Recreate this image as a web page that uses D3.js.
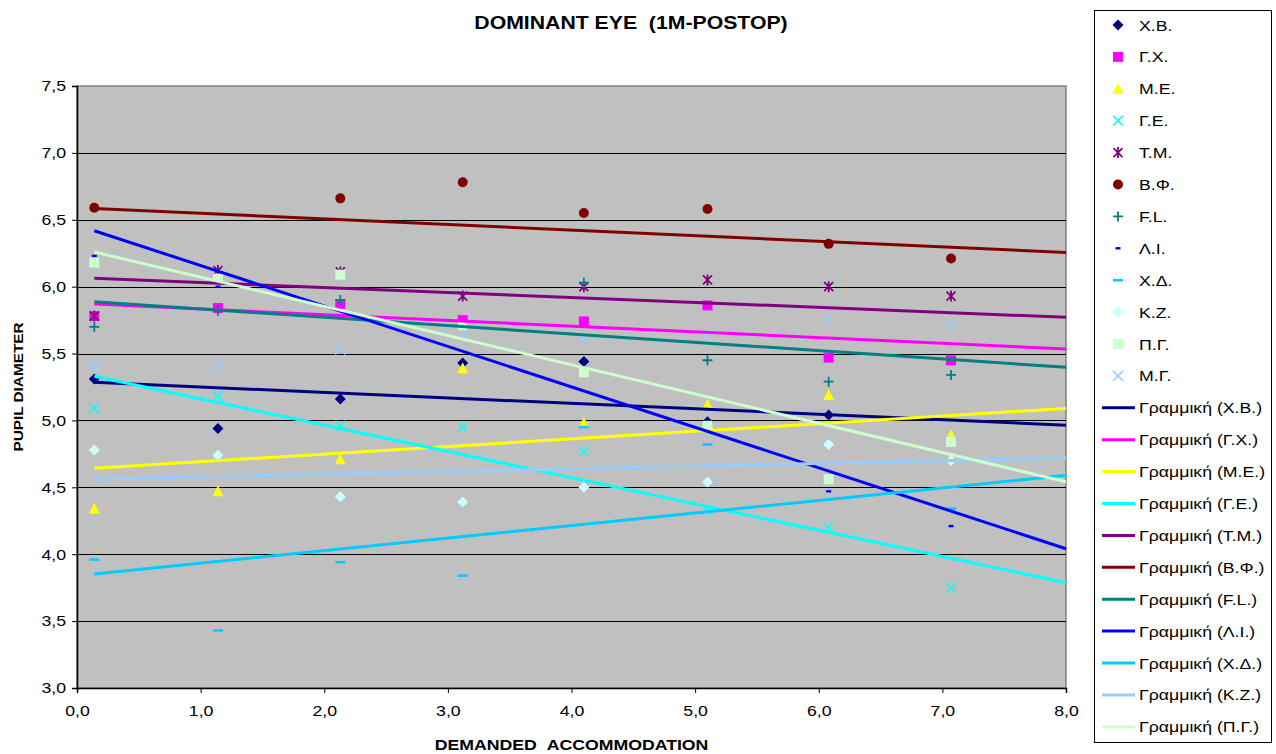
<!DOCTYPE html>
<html>
<head>
<meta charset="utf-8">
<script src="https://cdn.jsdelivr.net/npm/d3@7"></script>
<style>
  html, body { margin: 0; padding: 0; background: #ffffff; }
  svg { display: block; font-family: "Liberation Sans", Arial, sans-serif; }
</style>
</head>
<body>
<svg id="chart" width="1276" height="754"></svg>
<script>
// Demanded accommodation steps (D)
const accommodation = [0.14, 1.14, 2.13, 3.12, 4.10, 5.10, 6.08, 7.07];

// Pupil diameter per subject
const seriesNames = ["Χ.Β.", "Γ.Χ.", "Μ.Ε.", "Γ.Ε.", "Τ.Μ.", "Β.Φ.", "F.L.", "Λ.Ι.", "Χ.Δ.", "Κ.Ζ.", "Π.Γ.", "Μ.Γ."];
const valuesXB = [5.31, 4.94, 5.16, 5.43, 5.44, 4.99, 5.04, 4.86];
const valuesGX = [5.78, 5.84, 5.87, 5.75, 5.74, 5.86, 5.47, 5.45];
const valuesME = [4.34, 4.47, 4.71, 5.39, 4.98, 5.12, 5.19, 4.89];
const valuesGE = [5.09, 5.18, 4.96, 4.95, 4.77, 4.33, 4.20, 3.75];
const valuesTM = [5.78, 6.12, 6.11, 5.93, 6.00, 6.05, 6.00, 5.93];
const valuesBF = [6.59, null, 6.66, 6.78, 6.55, 6.58, 6.32, 6.21];
const valuesFL = [5.70, 5.82, 5.90, 5.71, 6.03, 5.45, 5.29, 5.34];
const valuesLI = [6.23, 6.00, 6.07, 5.70, 5.36, 4.95, 4.47, 4.21];
const valuesXD = [3.96, 3.43, 3.94, 3.84, 4.95, 4.82, 4.55, 4.34];
const valuesKZ = [4.78, 4.74, 4.43, 4.39, 4.50, 4.54, 4.82, 4.70];
const valuesPG = [6.18, 6.06, 6.09, 5.71, 5.36, 4.96, 4.56, 4.84];
const valuesMG = [5.41, 5.41, 5.53, 5.64, 5.61, 5.63, 5.76, 5.71];
const seriesValues = [valuesXB, valuesGX, valuesME, valuesGE, valuesTM, valuesBF,
                      valuesFL, valuesLI, valuesXD, valuesKZ, valuesPG, valuesMG];

const markerColors = ["#000080", "#FF00FF", "#FFFF00", "#00FFFF", "#800080", "#800000",
                      "#008080", "#0000FF", "#00CCFF", "#CCFFFF", "#CCFFCC", "#99CCFF"];
const markerShapes = ["diamond", "square", "triangle", "cross", "star", "circle",
                      "plus", "shortdash", "longdash", "diamond", "square", "cross"];

// Linear trendlines: value at the first step and at the end of the axis (8,0)
const trendNames = ["Χ.Β.", "Γ.Χ.", "Μ.Ε.", "Γ.Ε.", "Τ.Μ.", "Β.Φ.", "F.L.", "Λ.Ι.", "Χ.Δ.", "Κ.Ζ.", "Π.Γ."];
const trendStart = [5.285, 5.870, 4.642, 5.330, 6.062, 6.585, 5.887, 6.418, 3.852, 4.560, 6.259];
const trendEnd   = [4.965, 5.534, 5.090, 3.787, 5.771, 6.256, 5.397, 4.041, 4.590, 4.719, 4.542];
const trendColors = ["#000080", "#FF00FF", "#FFFF00", "#00FFFF", "#800080", "#800000",
                     "#008080", "#0000FF", "#00CCFF", "#99CCFF", "#CCFFCC"];
const trendEndX = 8.0;

const xTicks = [0, 1, 2, 3, 4, 5, 6, 7, 8];
const yTicks = [3.0, 3.5, 4.0, 4.5, 5.0, 5.5, 6.0, 6.5, 7.0, 7.5];

const svg = d3.select("#chart");
const plot = { left: 77, right: 1066, top: 86, bottom: 688 };
const STRETCH = 1.18;   // horizontally widened lettering

const x = d3.scaleLinear().domain([0, 8]).range([plot.left, plot.right]);
const y = d3.scaleLinear().domain([3, 7.5]).range([plot.bottom, plot.top]);
const fmt = v => d3.format(".1f")(v).replace(".", ",");

// Place a text at (tx, ty) with widened glyphs
function wideText(parent, tx, ty, str, size, anchor, bold) {
  return parent.append("text")
    .attr("transform", `translate(${tx},${ty}) scale(${STRETCH},1)`)
    .attr("text-anchor", anchor || "start")
    .attr("font-size", size)
    .attr("font-weight", bold ? "bold" : "normal")
    .text(str);
}

// Title
wideText(svg, 631, 29, "DOMINANT EYE\u00A0\u00A0(1M-POSTOP)", 18, "middle", true);

// Plot background
svg.append("rect")
  .attr("x", plot.left).attr("y", plot.top)
  .attr("width", plot.right - plot.left).attr("height", plot.bottom - plot.top)
  .attr("fill", "#C0C0C0")
  .attr("stroke", "#808080").attr("stroke-width", 1.5);

// Horizontal grid
svg.append("g")
  .selectAll("line")
  .data(yTicks.filter(t => t > 3 && t < 7.5))
  .join("line")
  .attr("x1", plot.left).attr("x2", plot.right)
  .attr("y1", d => Math.round(y(d)) + 0.5).attr("y2", d => Math.round(y(d)) + 0.5)
  .attr("stroke", "#000").attr("stroke-width", 1);

// Axes
const yAxis = d3.axisLeft(y).tickValues(yTicks).tickFormat(fmt).tickSize(5);
const gy = svg.append("g").attr("transform", `translate(${plot.left},0)`).call(yAxis);
gy.selectAll("text")
  .attr("x", -11 / STRETCH)
  .attr("transform", `scale(${STRETCH},1)`);
const xAxis = d3.axisBottom(x).tickValues(xTicks).tickFormat(fmt).tickSize(5).tickPadding(12);
const gx = svg.append("g").attr("transform", `translate(0,${plot.bottom})`).call(xAxis);
gx.selectAll("text").attr("transform", `scale(${STRETCH},1)`);
[gy, gx].forEach(g => {
  g.selectAll("text").attr("font-size", 15).attr("fill", "#000")
    .attr("font-family", "'Liberation Sans', Arial, sans-serif");
  g.selectAll("line").attr("stroke", "#000");
  g.select(".domain").attr("stroke", "#000").attr("stroke-width", 1.5);
});

// Axis titles
svg.append("text")
  .attr("transform", `translate(23,${(plot.top + plot.bottom) / 2}) rotate(-90) scale(${STRETCH},1)`)
  .attr("text-anchor", "middle")
  .attr("font-size", 13).attr("font-weight", "bold")
  .text("PUPIL DIAMETER");
wideText(svg, (plot.left + plot.right) / 2, 750, "DEMANDED\u00A0\u00A0ACCOMMODATION", 15, "middle", true);

// Marker drawing
function drawMarker(g, shape, color) {
  switch (shape) {
    case "diamond":
      g.append("path").attr("d", "M0,-5.5L5.5,0L0,5.5L-5.5,0Z").attr("fill", color);
      break;
    case "square":
      g.append("rect").attr("x", -5).attr("y", -5).attr("width", 10).attr("height", 10).attr("fill", color);
      break;
    case "triangle":
      g.append("path").attr("d", "M0,-6L5.5,5L-5.5,5Z").attr("fill", color);
      break;
    case "circle":
      g.append("circle").attr("r", 5).attr("fill", color);
      break;
    case "cross":
      g.append("path").attr("d", "M-5,-5L5,5M-5,5L5,-5").attr("stroke", color).attr("stroke-width", 1.5).attr("fill", "none");
      break;
    case "star":
      g.append("path").attr("d", "M-4.5,-4.5L4.5,4.5M-4.5,4.5L4.5,-4.5M0,-5.5L0,5.5").attr("stroke", color).attr("stroke-width", 1.8).attr("fill", "none");
      break;
    case "plus":
      g.append("path").attr("d", "M-5,0L5,0M0,-5L0,5").attr("stroke", color).attr("stroke-width", 1.8).attr("fill", "none");
      break;
    case "shortdash":
      g.append("rect").attr("x", -2.5).attr("y", -1.2).attr("width", 5).attr("height", 2.4).attr("fill", color);
      break;
    case "longdash":
      g.append("rect").attr("x", -5).attr("y", -1.3).attr("width", 10).attr("height", 2.6).attr("fill", color);
      break;
  }
}

// Data points
const pointsLayer = svg.append("g");
seriesValues.forEach((vals, si) => {
  vals.forEach((v, i) => {
    if (v == null) return;
    const g = pointsLayer.append("g")
      .attr("transform", `translate(${x(accommodation[i])},${y(v)})`);
    drawMarker(g, markerShapes[si], markerColors[si]);
  });
});

// Trendlines
const line = d3.line().x(d => x(d[0])).y(d => y(d[1]));
svg.append("g")
  .selectAll("path")
  .data(trendNames.map((n, i) => ({ i, pts: [[accommodation[0], trendStart[i]], [trendEndX, trendEnd[i]]] })))
  .join("path")
  .attr("d", d => line(d.pts))
  .attr("stroke", d => trendColors[d.i])
  .attr("stroke-width", 3)
  .attr("fill", "none");

// Legend
const legend = svg.append("g");
legend.append("rect")
  .attr("x", 1094.5).attr("y", 10.5).attr("width", 177).attr("height", 732)
  .attr("fill", "#fff").attr("stroke", "#000").attr("stroke-width", 1);
const rowY = i => 25 + i * 31.9;
seriesNames.forEach((n, i) => {
  const g = legend.append("g").attr("transform", `translate(1118,${rowY(i)})`);
  drawMarker(g, markerShapes[i], markerColors[i]);
  wideText(legend, 1139, rowY(i) + 5.5, n, 15);
});
trendNames.forEach((n, i) => {
  const yy = rowY(seriesNames.length + i);
  legend.append("line")
    .attr("x1", 1102).attr("x2", 1135).attr("y1", yy).attr("y2", yy)
    .attr("stroke", trendColors[i]).attr("stroke-width", 3);
  wideText(legend, 1139, yy + 5.5, `Γραμμική (${n})`, 15);
});
</script>
</body>
</html>
